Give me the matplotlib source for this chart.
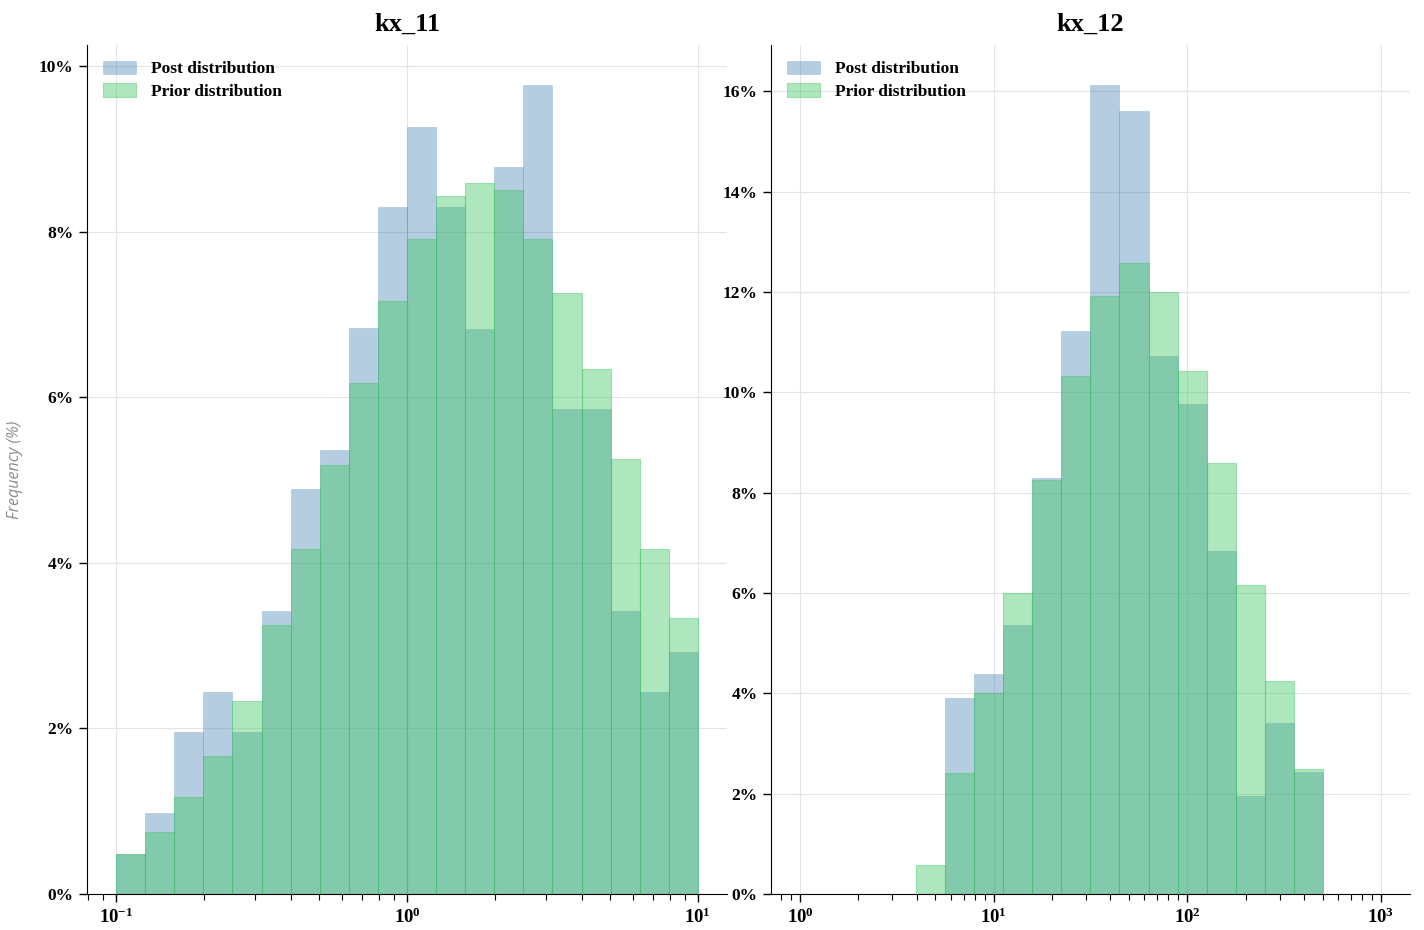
import numpy as np
import matplotlib
matplotlib.use("Agg")
import matplotlib.pyplot as plt
from matplotlib.ticker import PercentFormatter, MultipleLocator, NullFormatter

plt.rcParams['font.family'] = ['Liberation Serif', 'DejaVu Serif']
plt.rcParams['font.weight'] = 'bold'
plt.rcParams['mathtext.fontset'] = 'custom'
plt.rcParams['mathtext.rm'] = 'Liberation Serif:bold'
plt.rcParams['mathtext.it'] = 'Liberation Serif:bold'
plt.rcParams['mathtext.bf'] = 'Liberation Serif:bold'
plt.rcParams['mathtext.default'] = 'rm'

# kx_11: 20 log bins from 10^-1 to 10^1
kx11_edges = np.logspace(-1, 1, 21)
kx11_post = [0.48, 0.98, 1.96, 2.44, 1.96, 3.42, 4.89, 5.37, 6.84, 8.30,
             9.27, 8.30, 6.83, 8.79, 9.77, 5.86, 5.86, 3.42, 2.44, 2.93]
kx11_prior = [0.48, 0.75, 1.17, 1.67, 2.33, 3.25, 4.17, 5.18, 6.17, 7.17,
              7.92, 8.43, 8.59, 8.51, 7.92, 7.26, 6.34, 5.26, 4.17, 3.34]

# kx_12: 14 log bins from 10^0.6 to 10^2.7
kx12_edges = np.logspace(0.6, 2.7, 15)
kx12_post = [0.0, 3.91, 4.39, 5.37, 8.30, 11.23, 16.12, 15.62, 10.73, 9.76,
             6.84, 1.96, 3.41, 2.43]
kx12_prior = [0.58, 2.41, 4.01, 6.00, 8.26, 10.33, 11.93, 12.59, 12.01, 10.43,
              8.60, 6.16, 4.25, 2.49]

post_color = '#4682b4'
prior_color = '#3cc460'

fig = plt.figure(figsize=(14.24, 9.3), dpi=100)
ax1 = fig.add_axes([0.0611, 0.0387, 0.4494, 0.9129])
ax2 = fig.add_axes([0.5414, 0.0387, 0.4487, 0.9129])


def draw(ax, edges, post, prior, title, xlim):
    widths = np.diff(edges)
    ax.bar(edges[:-1], post, width=widths, align='edge', color=post_color,
           alpha=0.4, edgecolor=post_color, linewidth=0.4, label='Post distribution')
    ax.bar(edges[:-1], prior, width=widths, align='edge', color=prior_color,
           alpha=0.41, edgecolor=prior_color, linewidth=0.8, label='Prior distribution')
    ax.set_axisbelow(True)
    ax.set_xscale('log')
    ax.set_xlim(*xlim)
    ax.set_ylim(0, max(max(post), max(prior)) * 1.05)
    ax.yaxis.set_major_locator(MultipleLocator(2))
    ax.yaxis.set_major_formatter(PercentFormatter(decimals=0))
    ax.xaxis.set_minor_formatter(NullFormatter())
    ax.grid(True, which='major', color='#e3e3e3', linewidth=0.8)
    ax.spines['top'].set_visible(False)
    ax.spines['right'].set_visible(False)
    ax.tick_params(axis='y', which='major', labelsize=12.5, length=6, width=1)
    ax.tick_params(axis='x', which='major', labelsize=13.5, length=6, width=1, pad=4)
    ax.tick_params(axis='x', which='minor', length=4, width=0.8)
    ax.set_title(title, fontsize=19, fontweight='bold', pad=10)
    ax.legend(loc='upper left', frameon=False, fontsize=12.5, handlelength=1.9,
              handleheight=0.8, handletextpad=0.9, borderaxespad=0.5,
              labelspacing=0.35)


draw(ax1, kx11_edges, kx11_post, kx11_prior, 'kx_11', (10 ** -1.1, 10 ** 1.1))
draw(ax2, kx12_edges, kx12_post, kx12_prior, 'kx_12', (10 ** -0.15, 10 ** 3.15))

ax1.set_ylabel('Frequency (%)', family=['Open Sans', 'DejaVu Sans'], style='italic',
               fontweight='normal', color='#8c8c8c', fontsize=11.5)
ax1.yaxis.set_label_coords(-0.10, 0.5)

fig.savefig('out.png', dpi=100)
